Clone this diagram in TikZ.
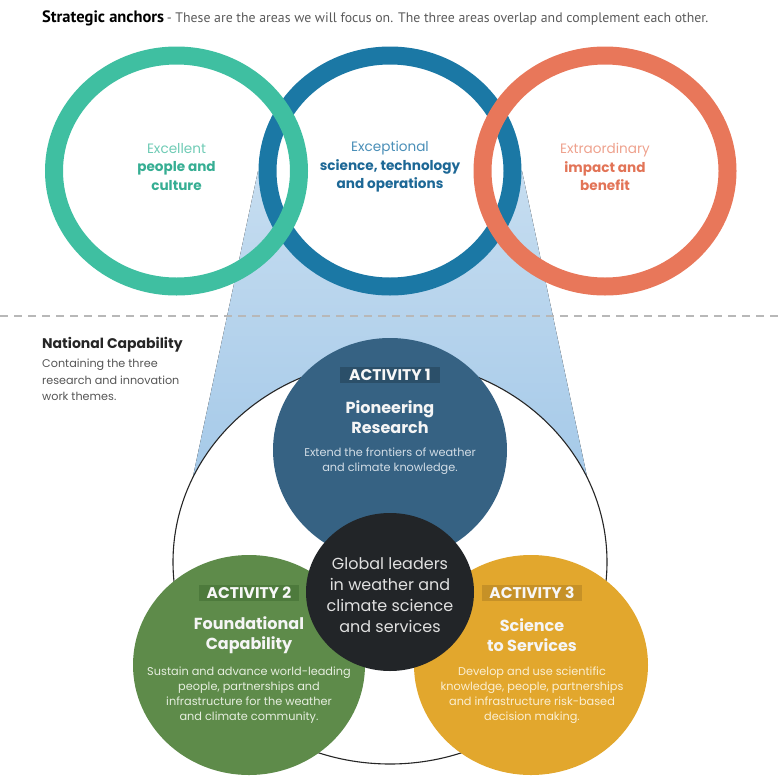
\documentclass[tikz,border=0pt]{standalone}
\usepackage{fontspec}
\setmainfont{Poppins}
\newfontfamily\headfont{PT Sans}
\usepackage{tikz}
\usetikzlibrary{positioning,shapes.geometric}
\definecolor{peopleteal}{HTML}{3FBFA1}
\definecolor{peoplelight}{HTML}{6FCBB5}
\definecolor{peopletext}{HTML}{36AE93}
\definecolor{scienceblue}{HTML}{1B78A5}
\definecolor{sciencelight}{HTML}{4A8FB8}
\definecolor{sciencetext}{HTML}{1D6896}
\definecolor{impactorange}{HTML}{E8775A}
\definecolor{impactlight}{HTML}{EEA28E}
\definecolor{impacttext}{HTML}{E27457}
\definecolor{conetop}{HTML}{C6DDF0}
\definecolor{conebot}{HTML}{A3C8E8}
\definecolor{pioneerblue}{HTML}{366283}
\definecolor{pioneertag}{HTML}{2B4F69}
\definecolor{pioneertext}{HTML}{D2DDE6}
\definecolor{foundgreen}{HTML}{5E8B4A}
\definecolor{foundtag}{HTML}{4D7A3C}
\definecolor{foundtext}{HTML}{E6EEDF}
\definecolor{servgold}{HTML}{E2A72D}
\definecolor{servtag}{HTML}{C69127}
\definecolor{servtext}{HTML}{FBEFD2}
\definecolor{leadblack}{HTML}{222528}
\definecolor{headgrey}{HTML}{5A5A5A}
\definecolor{inkgrey}{HTML}{555555}
\newcommand{\pxfont}[2]{\fontsize{#1}{#2}\selectfont}

\begin{document}
\begin{tikzpicture}[x=1pt, y=-1pt,
  ring/.style={ellipse, draw=#1, line width=18pt, inner sep=0pt,
               minimum width=245pt, minimum height=231pt},
  ringtxt/.style={align=center, inner sep=0pt, font=\pxfont{13.6}{18.5}\bfseries},
  disc/.style={ellipse, fill=#1, inner sep=0pt},
  acttag/.style={fill=#1, text=white!97!black, inner sep=0pt, minimum width=100pt,
                 minimum height=16pt, font=\pxfont{15.5}{16}\bfseries},
  acttitle/.style={align=center, inner sep=0pt, text=white!96!black,
                   font=\pxfont{16}{20}\bfseries},
  actbody/.style={align=center, inner sep=0pt, font=\pxfont{11.3}{14.8}},
  dashline/.style={draw=black!28, line width=1.4pt, dash pattern=on 8pt off 6pt}]
\useasboundingbox (0,0) rectangle (780,782);
\fill[top color=conetop, bottom color=conebot] (258,171) -- (522,171) -- (592,500) -- (188,500) -- cycle;
\node[ellipse, draw=black!85, line width=1.1pt, fill=white, inner sep=0pt,
      minimum width=434pt, minimum height=404pt] (natring) at (390,562) {};
\node[ring=scienceblue, fill=white] (science) at (390,171) {};
\node[ring=peopleteal] (people) at (176.5,171) {};
\node[ring=impactorange] (impact) at (605,171) {};
\node[ringtxt, text=peopletext] (peopletxt) at (176.5,167)
  {{\mdseries\color{peoplelight}Excellent}\\people and\\culture};
\node[ringtxt, text=sciencetext] (sciencetxt) at (390,167)
  {{\mdseries\color{sciencelight}Exceptional}\\science, technology\\and operations};
\node[ringtxt, text=impacttext] (impacttxt) at (605,167)
  {{\mdseries\color{impactlight}Extraordinary}\\impact and\\benefit};
\coordinate (divL) at (0,316);
\coordinate (divR) at (780,316);
\draw[dashline] (divL) -- (divR);
\node[anchor=base west, inner sep=0pt] (anchors) at (42,22)
  {\headfont{\pxfont{16.5}{18}\bfseries Strategic anchors} {\pxfont{13.8}{18}\color{headgrey}- These are the areas we will focus on. The three areas overlap and complement each other.}};
\node[anchor=base west, inner sep=0pt, text=black!85, font=\pxfont{14}{16}\bfseries]
  (natcap) at (42,348) {National Capability};
\node[below right=7pt and 0pt of natcap.south west, inner sep=0pt, align=left,
      text=inkgrey, font=\pxfont{11.2}{16.5}]
  (natdesc) {Containing the three\\research and innovation\\work themes.};
\node[disc=pioneerblue, minimum width=234pt, minimum height=224pt] (act1) at (390,450) {};
\node[disc=foundgreen, minimum width=232pt, minimum height=220pt] (act2) at (249,665) {};
\node[disc=servgold, minimum width=234pt, minimum height=220pt] (act3) at (531,665) {};
\node[disc=leadblack, minimum width=168pt, minimum height=158pt] (lead) at (390,592) {};
\node[acttag=pioneertag] (tag1) at (390,375) {ACTIVITY 1};
\node[acttitle] (title1) at (390,417) {Pioneering\\Research};
\node[actbody, text=pioneertext] (body1) at (390,461)
  {Extend the frontiers of weather\\and climate knowledge.};
\node[acttag=foundtag] (tag2) at (249,593) {ACTIVITY 2};
\node[acttitle] (title2) at (249,635) {Foundational\\Capability};
\node[actbody, text=foundtext] (body2) at (249,695)
  {Sustain and advance world-leading\\people, partnerships and\\infrastructure for the weather\\and climate community.};
\node[acttag=servtag] (tag3) at (532,593) {ACTIVITY 3};
\node[acttitle] (title3) at (532,635) {Science\\to Services};
\node[actbody, text=servtext] (body3) at (532,695)
  {Develop and use scientific\\knowledge, people, partnerships\\and infrastructure risk-based\\decision making.};
\node[align=center, inner sep=0pt, text=white!88!black, font=\pxfont{16}{21}] (leadtxt) at (390,595)
  {Global leaders\\in weather and\\climate science\\and services};
\end{tikzpicture}
\end{document}
